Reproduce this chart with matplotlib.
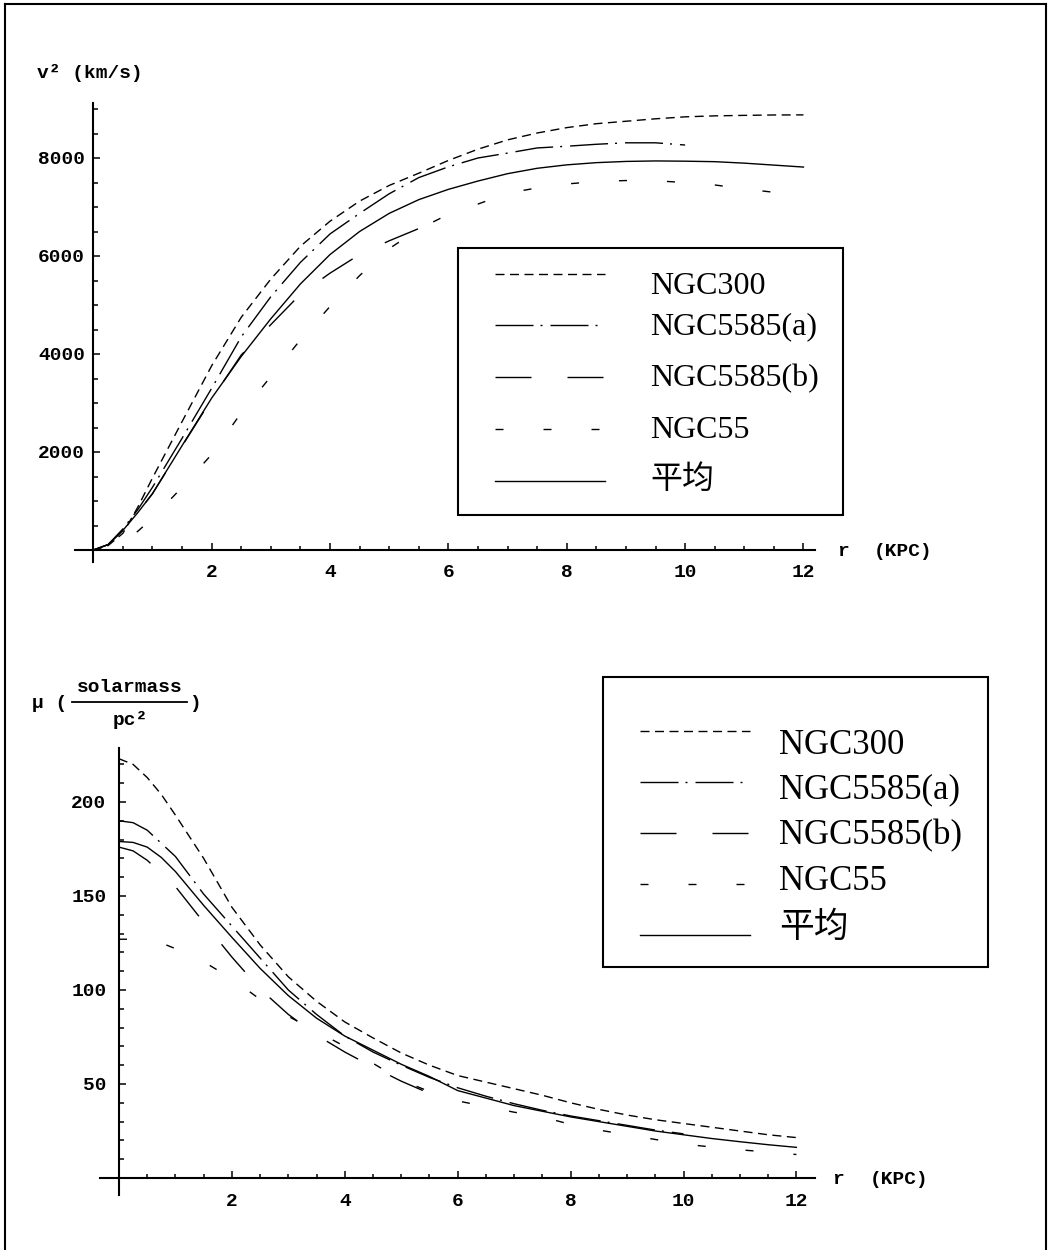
import matplotlib
matplotlib.use("Agg")
import matplotlib.pyplot as plt
from matplotlib.lines import Line2D
from matplotlib.patches import Rectangle
import numpy as np

plt.rcParams['lines.scale_dashes'] = False

# ---------------- data ----------------
series_names = ["NGC300", "NGC5585(a)", "NGC5585(b)", "NGC55", "平均"]

# top chart: v^2 (km/s) vs r (KPC)
r_top = [0, 0.25, 0.5, 0.75, 1, 1.5, 2, 2.5, 3, 3.5, 4, 4.5, 5, 5.5, 6, 6.5, 7,
         7.5, 8, 8.5, 9, 9.5, 10, 10.5, 11, 11.5, 12]
v2_ngc300 = [0, 90, 340, 870, 1470, 2620, 3760, 4750, 5530, 6200, 6710, 7120, 7440,
             7690, 7950, 8180, 8370, 8510, 8620, 8700, 8750, 8800, 8840, 8860, 8870,
             8878, 8880]
r_top_a = r_top[:23]
v2_ngc5585a = [0, 110, 430, 820, 1280, 2280, 3300, 4350, 5170, 5870, 6450, 6870, 7270,
               7600, 7820, 8000, 8100, 8205, 8240, 8280, 8310, 8310, 8265]
r_top_b = [0, 0.25, 0.5, 0.75, 1, 1.5, 2, 2.5, 3, 3.5, 4, 4.5, 5, 5.5, 5.75]
v2_ngc5585b = [0, 110, 400, 760, 1150, 2120, 3080, 3980, 4600, 5220, 5650, 6030,
               6310, 6560, 6670]
v2_ngc55 = [0, 40, 160, 380, 650, 1280, 1950, 2800, 3540, 4290, 4970, 5600, 6150,
            6550, 6850, 7060, 7280, 7390, 7470, 7520, 7540, 7535, 7500, 7450, 7370,
            7300, 7230]
v2_avg = [0, 110, 400, 760, 1150, 2130, 3100, 3950, 4720, 5430, 6030, 6500, 6870,
          7150, 7360, 7530, 7680, 7790, 7860, 7905, 7930, 7940, 7935, 7925, 7895,
          7855, 7815]

# bottom chart: mu (solarmass/pc^2) vs r (KPC)
r_bot = r_top
mu_ngc300 = [223, 220, 213, 204, 193, 170, 144, 124, 107, 94, 83, 74.5, 66.5, 60,
             54.5, 51, 47.5, 44, 40, 36.5, 33.5, 31, 29, 27, 25, 23, 21.5]
r_bot_a = r_bot[:23]
mu_ngc5585a = [190, 189, 185, 178, 171, 151, 134, 117, 100, 87, 75.5, 67, 60, 53.5,
               48, 43.5, 39.5, 36, 33, 30.5, 28, 25.5, 23.5]
r_bot_b = r_bot[:14]
mu_ngc5585b = [176, 174, 169, 162, 155, 136, 117.5, 100.5, 87, 76, 67, 59, 51.5, 45]
mu_ngc55 = [127, 127, 126, 125, 122, 115, 106, 95, 86, 78, 70, 61, 52, 46, 41, 38,
            35, 32.5, 28.5, 25.5, 23, 20.5, 18, 16.5, 15, 13.8, 12.5]
mu_avg = [179, 178.5, 176, 170.5, 163, 145, 128, 111.5, 97, 85, 75.5, 68, 60.5, 54,
          46.5, 42.5, 38.5, 35.5, 32.5, 30, 27.5, 25, 23, 21, 19.3, 17.7, 16.3]

top_xticks = [2, 4, 6, 8, 10, 12]
top_yticks = [2000, 4000, 6000, 8000]
bot_xticks = [2, 4, 6, 8, 10, 12]
bot_yticks = [50, 100, 150, 200]

# ---------------- styles ----------------
W, H = 1051, 1250
PT = 72.0 / 100.0  # points per pixel at dpi 100
styles = [
    dict(ls=(0, (9 * PT, 5.5 * PT))),
    dict(ls=(0, (38 * PT, 7 * PT, 2 * PT, 8 * PT))),
    dict(ls=(0, (36 * PT, 36 * PT))),
    dict(ls=(0, (8 * PT, 40 * PT))),
    dict(ls='-'),
]
LW = 1.0
mono = 'Liberation Mono'
tick_fs = 14
tick_fw = 'bold'

fig = plt.figure(figsize=(W / 100, H / 100), dpi=100)


def fx(px):
    return px / W


def fy(py):
    return 1 - py / H


def make_axes(left, right, top, bottom, x0px, xscale, y0px, yscale,
              xsp_lo, xsp_hi, ysp_top, ysp_bot, xminor, yminor, xt, yt,
              xpad, ypad):
    ax = fig.add_axes([fx(left), fy(bottom), (right - left) / W, (bottom - top) / H])
    ax.set_xlim((left - x0px) / xscale, (right - x0px) / xscale)
    ax.set_ylim((y0px - bottom) / yscale, (y0px - top) / yscale)
    for s in ['top', 'right']:
        ax.spines[s].set_visible(False)
    ax.spines['left'].set_position(('data', 0))
    ax.spines['bottom'].set_position(('data', 0))
    ax.spines['left'].set_bounds((y0px - ysp_bot) / yscale, (y0px - ysp_top) / yscale)
    ax.spines['bottom'].set_bounds((xsp_lo - x0px) / xscale, (xsp_hi - x0px) / xscale)
    for s in ['left', 'bottom']:
        ax.spines[s].set_linewidth(1.5)
    ax.set_xticks(xt)
    ax.set_yticks(yt)
    ax.set_xticks(xminor, minor=True)
    ax.set_yticks(yminor, minor=True)
    ax.tick_params(which='major', direction='in', length=7 * PT, width=1.1)
    ax.tick_params(which='minor', direction='in', length=4.5 * PT, width=1.1)
    ax.tick_params(axis='x', which='major', pad=xpad)
    ax.tick_params(axis='y', which='major', pad=ypad)
    for lab in ax.get_xticklabels() + ax.get_yticklabels():
        lab.set_fontfamily(mono)
        lab.set_fontsize(tick_fs)
        lab.set_fontweight(tick_fw)
    ax.patch.set_alpha(0)
    return ax


# ---------------- top chart ----------------
ax1 = make_axes(70, 835, 95, 570, 93.3, 59.18, 550, 0.049,
                75, 815, 103, 562,
                [x for x in np.arange(0.5, 12.01, 0.5) if x not in top_xticks],
                [y for y in np.arange(500, 9001, 500) if y not in top_yticks],
                top_xticks, top_yticks, 10, 6)
top_series = [(r_top, v2_ngc300), (r_top_a, v2_ngc5585a), (r_top_b, v2_ngc5585b),
              (r_top, v2_ngc55), (r_top, v2_avg)]
for (xs, ys), st in zip(top_series, styles):
    ax1.plot(xs, ys, color='black', lw=LW, linestyle=st['ls'])

# ---------------- bottom chart ----------------
ax2 = make_axes(95, 835, 740, 1200, 119, 56.45, 1178, 1.88,
                100, 815, 748, 1195,
                [x for x in np.arange(0.5, 12.01, 0.5) if x not in bot_xticks],
                [y for y in np.arange(10, 221, 10) if y not in bot_yticks],
                bot_xticks, bot_yticks, 11, 9)
bot_series = [(r_bot, mu_ngc300), (r_bot_a, mu_ngc5585a), (r_bot_b, mu_ngc5585b),
              (r_bot, mu_ngc55), (r_bot, mu_avg)]
for (xs, ys), st in zip(bot_series, styles):
    ax2.plot(xs, ys, color='black', lw=LW, linestyle=st['ls'])

# ---------------- axis labels ----------------
lab_kw = dict(family=mono, fontsize=tick_fs, fontweight=tick_fw)
fig.text(fx(37), fy(73), "v\u00b2 (km/s)", va='center', ha='left', **lab_kw)
fig.text(fx(843), fy(551), "r", va='center', ha='center', **lab_kw)
fig.text(fx(874), fy(551), "(KPC)", va='center', ha='left', **lab_kw)
fig.text(fx(838), fy(1180), "r", va='center', ha='center', **lab_kw)
fig.text(fx(870), fy(1180), "(KPC)", va='center', ha='left', **lab_kw)
fig.text(fx(32), fy(703), "\u03bc (", va='center', ha='left', **lab_kw)
fig.text(fx(130), fy(688), "solarmass", va='center', ha='center', **lab_kw)
fig.add_artist(Line2D([fx(72), fx(187)], [fy(702), fy(702)], color='black',
                      lw=1.3, transform=fig.transFigure))
fig.text(fx(130), fy(720), "pc\u00b2", va='center', ha='center', **lab_kw)
fig.text(fx(189), fy(703), ")", va='center', ha='left', **lab_kw)


# ---------------- legends ----------------
def legend_box(x0, x1, y0, y1, lx0, lx1, tx, line_ys, text_ys, fs):
    fig.add_artist(Rectangle((fx(x0), fy(y1)), (x1 - x0) / W, (y1 - y0) / H,
                             transform=fig.transFigure, fill=False,
                             edgecolor='black', lw=1.5))
    for name, st, ly, ty in zip(series_names, styles, line_ys, text_ys):
        fig.add_artist(Line2D([fx(lx0), fx(lx1)], [fy(ly), fy(ly)], color='black',
                              lw=LW, linestyle=st['ls'], transform=fig.transFigure))
        fig.text(fx(tx), fy(ty), name, family=['Liberation Serif', 'Noto Sans CJK SC'],
                 fontsize=fs, va='center', ha='left')


legend_box(458, 843, 248, 515, 495, 605, 650,
           [274, 325, 377, 429, 481], [287, 327, 379, 431, 480], 23)
legend_box(603, 988, 677, 967, 640, 750, 779,
           [731, 782, 833, 884, 935], [745, 790, 836, 881, 928], 25)

# ---------------- outer frame ----------------
for xs, ys in [([5, 5], [4, 1250]), ([5, 1046], [4, 4]), ([1046, 1046], [4, 1250])]:
    fig.add_artist(Line2D([fx(x) for x in xs], [fy(y) for y in ys], color='black',
                          lw=1.5, transform=fig.transFigure))

fig.savefig("out.png", dpi=100, facecolor='white')
